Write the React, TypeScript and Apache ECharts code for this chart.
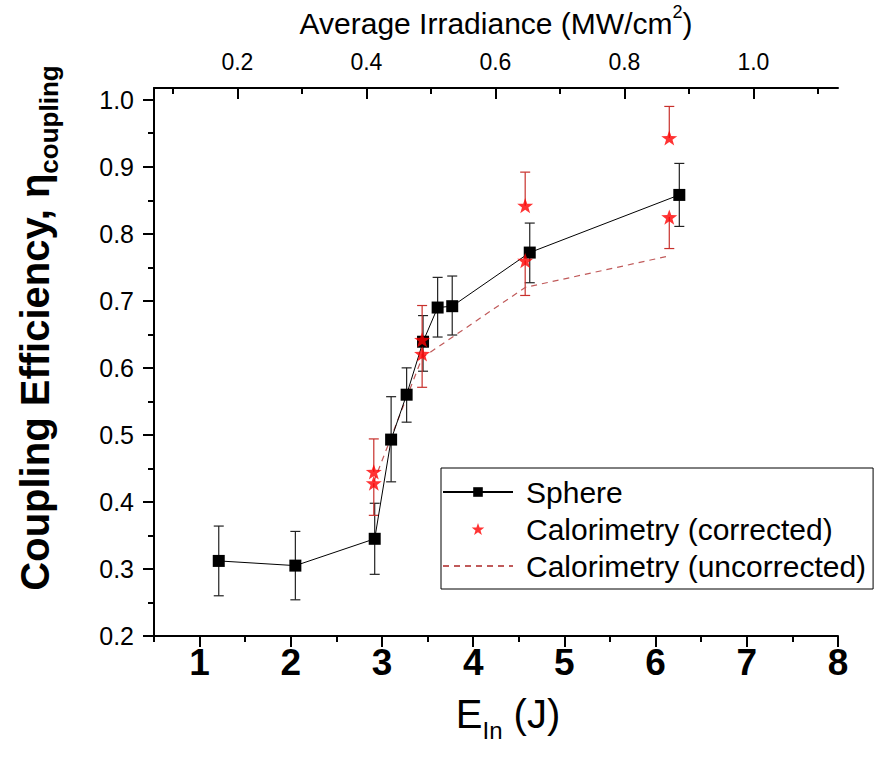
import React, { useEffect, useRef } from "react";
import * as echarts from "echarts";

// ---------------- data ----------------
const sphereEnergy = [1.21, 2.05, 2.92, 3.1, 3.27, 3.45, 3.61, 3.77, 4.62, 6.26];
const sphereEta = [0.312, 0.305, 0.345, 0.493, 0.56, 0.639, 0.69, 0.692, 0.772, 0.858];
const sphereLow = [0.26, 0.254, 0.292, 0.43, 0.519, 0.595, 0.646, 0.649, 0.727, 0.811];
const sphereHigh = [0.364, 0.356, 0.398, 0.557, 0.6, 0.678, 0.735, 0.737, 0.816, 0.905];

const calEnergy = [2.91, 2.91, 3.44, 3.44, 4.57, 4.57, 6.15, 6.15];
const calEta = [0.445, 0.428, 0.642, 0.621, 0.842, 0.76, 0.943, 0.825];
const calErrEnd = [0.494, 0.38, 0.693, 0.571, 0.892, 0.708, 0.99, 0.778];

const uncEnergy = [2.91, 3.44, 4.57, 6.15];
const uncEta = [0.43, 0.615, 0.72, 0.767];

const bottomTicks = [1, 2, 3, 4, 5, 6, 7, 8];
const topTicks = [0.2, 0.4, 0.6, 0.8, 1.0];
const topMinorTicks = [0.1, 0.3, 0.5, 0.7, 0.9, 1.1];
const leftTicks = [0.2, 0.3, 0.4, 0.5, 0.6, 0.7, 0.8, 0.9, 1.0];
const leftMinorTicks = [0.25, 0.35, 0.45, 0.55, 0.65, 0.75, 0.85, 0.95];

const IRR_PER_J = 0.1414; // MW/cm^2 per J
const X_MIN = 0.5;
const X_MAX = 8;
const Y_MIN = 0.2;
const Y_MAX = 1.0175;

const FONT = "'Liberation Sans', Arial, sans-serif";
const STAR =
  "path://M0,-10L2.35,-3.24L9.51,-3.09L3.8,1.24L5.88,8.09L0,4L-5.88,8.09L-3.8,1.24L-9.51,-3.09L-2.35,-3.24Z";

function errorBar(color: string, capHalf: number) {
  return (params: any, api: any) => {
    const x = api.value(0);
    const a = api.value(1);
    const b = api.value(2);
    const capA = api.value(3);
    const capB = api.value(4);
    const pa = api.coord([x, a]);
    const pb = api.coord([x, b]);
    const style = { stroke: color, lineWidth: 1.2 };
    const children: any[] = [
      { type: "line", shape: { x1: pa[0], y1: pa[1], x2: pb[0], y2: pb[1] }, style },
    ];
    if (capA) children.push({ type: "line", shape: { x1: pa[0] - capHalf, y1: pa[1], x2: pa[0] + capHalf, y2: pa[1] }, style });
    if (capB) children.push({ type: "line", shape: { x1: pb[0] - capHalf, y1: pb[1], x2: pb[0] + capHalf, y2: pb[1] }, style });
    return { type: "group", children };
  };
}

export default function App() {
  const ref = useRef<HTMLDivElement>(null);
  useEffect(() => {
    if (!ref.current) return;
    const chart = echarts.init(ref.current, undefined, { renderer: "svg" });
    const axisLine = { show: true, lineStyle: { color: "#000", width: 2 } };
    const option: any = {
      animation: false,
      backgroundColor: "#fff",
      grid: { left: 154, top: 88, width: 684, height: 548, containLabel: false, outerBoundsMode: "none" },
      graphic: [
        {
          type: "text",
          x: 35,
          y: 328,
          rotation: Math.PI / 2,
          style: {
            text: "{b|Coupling Efficiency, η}{s|coupling}",
            align: "center",
            verticalAlign: "middle",
            rich: {
              b: { fontSize: 40, fontWeight: "bold", fontFamily: FONT, fill: "#000", lineHeight: 54 },
              s: { fontSize: 26, fontWeight: "bold", fontFamily: FONT, fill: "#000", lineHeight: 26, verticalAlign: "bottom" },
            },
          },
        },
      ],
      xAxis: [
        {
          type: "value",
          position: "bottom",
          min: X_MIN,
          max: X_MAX,
          axisLine,
          splitLine: { show: false },
          axisTick: { show: true, customValues: bottomTicks, length: 11, inside: false, lineStyle: { color: "#000", width: 2 } },
          axisLabel: {
            customValues: bottomTicks,
            formatter: (v: number) => String(v),
            fontSize: 37,
            fontWeight: "bold",
            fontFamily: FONT,
            color: "#000",
            margin: 8,
          },
          name: "{e|E}{s|In}{e| (J)}",
          nameLocation: "middle",
          nameGap: 50,
          nameTextStyle: {
            color: "#000",
            padding: [0, 0, 0, 24],
            rich: {
              e: { fontSize: 40, fontFamily: FONT, color: "#000", lineHeight: 56 },
              s: { fontSize: 24, fontFamily: FONT, color: "#000", lineHeight: 24, verticalAlign: "bottom" },
            },
          },
        },
        {
          type: "value",
          position: "bottom",
          min: X_MIN,
          max: X_MAX,
          interval: 0.5,
          axisLine: { show: false },
          splitLine: { show: false },
          axisLabel: { show: false },
          axisTick: { show: true, length: 6, inside: false, lineStyle: { color: "#000", width: 2 } },
        },
        {
          type: "value",
          position: "top",
          min: X_MIN * IRR_PER_J,
          max: X_MAX * IRR_PER_J,
          axisLine,
          splitLine: { show: false },
          axisTick: { show: true, customValues: topTicks, length: 11, inside: true, lineStyle: { color: "#000", width: 2 } },
          axisLabel: {
            customValues: topTicks,
            formatter: (v: number) => v.toFixed(1),
            fontSize: 23,
            fontFamily: FONT,
            color: "#000",
            margin: 15,
          },
          name: "{t|Average Irradiance (MW/cm}{p|2}{t|)}",
          nameLocation: "middle",
          nameGap: 45,
          nameTextStyle: {
            color: "#000",
            rich: {
              t: { fontSize: 30, fontFamily: FONT, color: "#000", lineHeight: 40 },
              p: { fontSize: 18, fontFamily: FONT, color: "#000", lineHeight: 18, verticalAlign: "top" },
            },
          },
        },
        {
          type: "value",
          position: "top",
          min: X_MIN * IRR_PER_J,
          max: X_MAX * IRR_PER_J,
          axisLine: { show: false },
          splitLine: { show: false },
          axisLabel: { show: false },
          axisTick: { show: true, customValues: topMinorTicks, length: 6, inside: true, lineStyle: { color: "#000", width: 2 } },
        },
      ],
      yAxis: [
        {
          type: "value",
          position: "left",
          min: Y_MIN,
          max: Y_MAX,
          axisLine,
          splitLine: { show: false },
          axisTick: { show: true, customValues: leftTicks, length: 11, inside: false, lineStyle: { color: "#000", width: 2 } },
          axisLabel: {
            customValues: leftTicks,
            formatter: (v: number) => v.toFixed(1),
            fontSize: 25,
            fontFamily: FONT,
            color: "#000",
            margin: 20,
          },
        },
        {
          type: "value",
          position: "left",
          min: Y_MIN,
          max: Y_MAX,
          axisLine: { show: false },
          splitLine: { show: false },
          axisLabel: { show: false },
          axisTick: { show: true, customValues: leftMinorTicks, length: 6, inside: false, lineStyle: { color: "#000", width: 2 } },
        },
      ],
      legend: {
        orient: "vertical",
        left: 441,
        top: 468,
        data: [
          "Sphere",
          "Calorimetry (corrected)",
          { name: "Calorimetry (uncorrected)", itemStyle: { opacity: 0 } },
        ],
        itemWidth: 70,
        itemHeight: 12,
        itemGap: 7,
        padding: [9, 7, 8, 1],
        borderColor: "#000",
        borderWidth: 1,
        borderRadius: 0,
        backgroundColor: "#fff",
        selectedMode: false,
        textStyle: { fontSize: 30, fontFamily: FONT, color: "#000", lineHeight: 30, padding: [0, 0, 0, 8] },
      },
      series: [
        {
          name: "sphereErr",
          type: "custom",
          xAxisIndex: 0,
          yAxisIndex: 0,
          renderItem: errorBar("#222", 5),
          encode: { x: 0, y: [1, 2] },
          data: sphereEnergy.map((e, i) => [e, sphereLow[i], sphereHigh[i], 1, 1]),
          z: 2,
          silent: true,
        },
        {
          name: "calErr",
          type: "custom",
          xAxisIndex: 0,
          yAxisIndex: 0,
          renderItem: errorBar("#c8302c", 5),
          encode: { x: 0, y: [1, 2] },
          data: calEnergy.map((e, i) => [e, calEta[i], calErrEnd[i], 0, 1]),
          z: 2,
          silent: true,
        },
        {
          name: "Calorimetry (uncorrected)",
          type: "line",
          xAxisIndex: 0,
          yAxisIndex: 0,
          data: uncEnergy.map((e, i) => [e, uncEta[i]]),
          symbol: "none",
          lineStyle: { color: "#c05a5a", width: 1.2, type: [6, 5] },
          itemStyle: { color: "#c05a5a" },
          z: 3,
        },
        {
          name: "Sphere",
          type: "line",
          xAxisIndex: 0,
          yAxisIndex: 0,
          data: sphereEnergy.map((e, i) => [e, sphereEta[i]]),
          symbol: "rect",
          symbolSize: 12,
          lineStyle: { color: "#000", width: 1 },
          itemStyle: { color: "#000" },
          z: 4,
        },
        {
          name: "Calorimetry (corrected)",
          type: "scatter",
          xAxisIndex: 0,
          yAxisIndex: 0,
          data: calEnergy.map((e, i) => [e, calEta[i]]),
          symbol: STAR,
          symbolSize: 16,
          symbolKeepAspect: true,
          itemStyle: { color: "#ff0000" },
          z: 5,
        },
      ],
    };
    chart.setOption(option);
    return () => chart.dispose();
  }, []);
  return (
    <div
      ref={ref}
      style={{ position: "fixed", left: 0, top: 0, width: 879, height: 757, background: "#fff" }}
    />
  );
}
